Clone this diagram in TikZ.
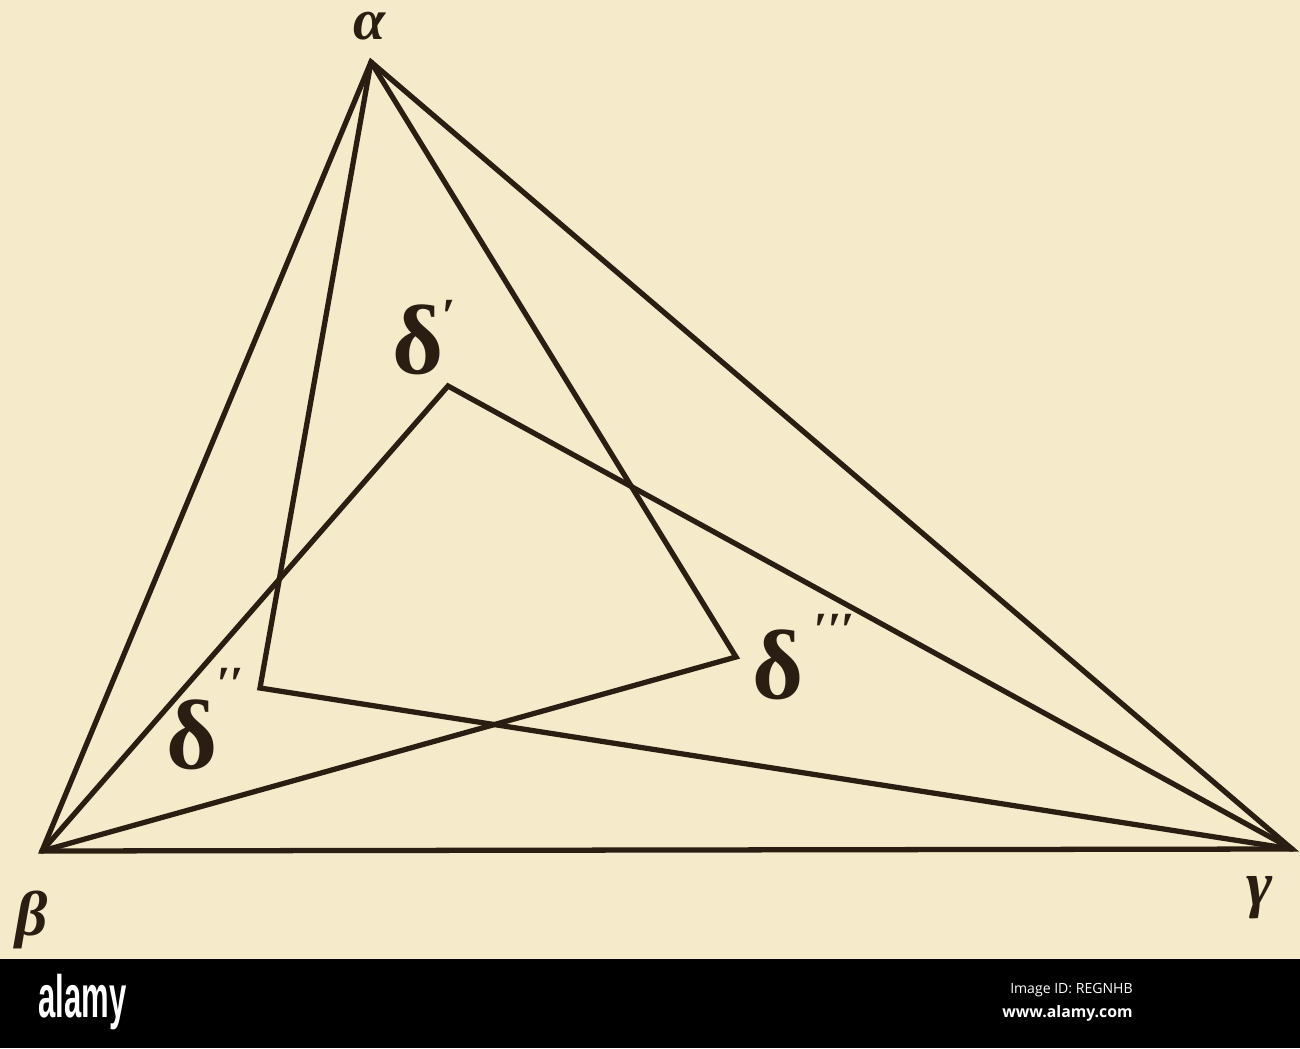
\documentclass[tikz,border=0pt]{standalone}
\usepackage{fontspec}
\newfontfamily\gk{Liberation Serif}
\newfontfamily\brand{Liberation Sans}
\newfontfamily\info{Open Sans}
\definecolor{paper}{RGB}{245,234,201}
\definecolor{ink}{RGB}{42,30,18}
\begin{document}
\begin{tikzpicture}[x=0.02cm,y=-0.02cm,
  edge/.style={draw=ink,line width=3pt,line join=miter,line cap=round},
  vlabel/.style={text=ink,inner sep=0pt,anchor=base,font=\gk\bfseries\itshape\fontsize{36}{36}\selectfont},
  dlabel/.style={text=ink,inner sep=0pt,anchor=base,font=\gk\bfseries\fontsize{56}{56}\selectfont},
  plabel/.style={text=ink,inner sep=0pt,font=\gk\bfseries\itshape\fontsize{28}{28}\selectfont}]
\fill[paper] (0,0) rectangle (1300,959);
\fill[black] (0,959) rectangle (1300,1048);
\useasboundingbox (0,0) rectangle (1300,1048);
% vertices
\coordinate (A) at (371,62);
\coordinate (B) at (42,851);
\coordinate (C) at (1292,849);
\coordinate (D1) at (448,386);
\coordinate (D2) at (260,688);
\coordinate (D3) at (736,657);
% triangle
\draw[edge] (A) -- (B) -- (C) -- cycle;
% inner broken lines
\draw[edge] (B) -- (D1) -- (C);
\draw[edge] (A) -- (D2) -- (C);
\draw[edge] (A) -- (D3) -- (B);
% labels
\node[vlabel,font=\gk\bfseries\itshape\fontsize{33}{33}\selectfont,text height=15pt] (la) at (370,39) {α};
\node[vlabel] (lb) at (32,935) {β};
\node[vlabel] (lc) at (1260,905) {γ};
\node[dlabel] (l1) at (418,373) {δ};
\node[plabel] (p1) at (448,316) {′};
\node[dlabel] (l2) at (192,768) {δ};
\node[plabel] (p2) at (230,684) {′′};
\node[dlabel] (l3) at (778,698) {δ};
\node[plabel] (p3) at (834,630) {′′′};
% footer
\node[text=white,inner sep=0pt,anchor=west,font=\brand\bfseries\fontsize{34}{34}\selectfont] (brand) at (38,1002) {\scalebox{0.52}[1]{alamy}};
\node[text=white,inner sep=0pt,anchor=east,font=\info\fontsize{8}{8}\selectfont] (imgid) at (1133,990) {Image ID: REGNHB};
\node[text=white,inner sep=0pt,anchor=east,font=\info\bfseries\fontsize{9}{9}\selectfont] (www) at (1133,1013) {www.alamy.com};
\end{tikzpicture}
\end{document}
